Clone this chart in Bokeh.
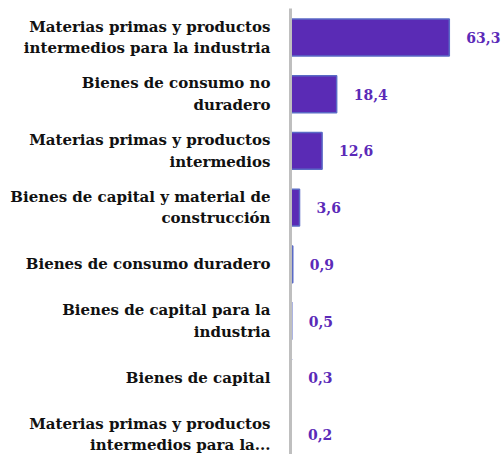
from bokeh.plotting import figure
from bokeh.models import Range1d, FixedTicker, ColumnDataSource
from bokeh.core.properties import value
from bokeh.embed import file_html
from bokeh.resources import INLINE

categories = [
    "Materias primas y productos\nintermedios para la industria",
    "Bienes de consumo no\nduradero",
    "Materias primas y productos\nintermedios",
    "Bienes de capital y material de\nconstrucción",
    "Bienes de consumo duradero",
    "Bienes de capital para la\nindustria",
    "Bienes de capital",
    "Materias primas y productos\nintermedios para la...",
]
values = [63.3, 18.4, 12.6, 3.6, 0.9, 0.5, 0.3, 0.2]

pos = list(range(len(categories)))
labels = [f"{v:.1f}".replace(".", ",") for v in values]
src = ColumnDataSource(dict(y=pos, v=values, lab=labels))

p = figure(width=504, height=454, output_backend="svg", toolbar_location=None,
           x_range=Range1d(0, 85.3), y_range=Range1d(7.353, -0.511),
           min_border_left=290, min_border_right=0, min_border_top=8, min_border_bottom=0)
p.outline_line_color = None
p.xgrid.visible = False
p.ygrid.visible = False
p.xaxis.visible = False

p.hbar(y="y", right="v", left=0, height=0.65, source=src,
       fill_color="#5a2bb5", line_color="#5a6ac6", line_width=1.5)
p.text(x="v", y="y", text="lab", source=src, x_offset=17, text_align="left",
       text_baseline="middle", text_font=value("DejaVu Serif"), text_font_style="bold",
       text_font_size="14px", text_color="#5b2ab8")

ya = p.yaxis[0]
ya.ticker = FixedTicker(ticks=pos)
ya.major_label_overrides = {i: c for i, c in enumerate(categories)}
ya.major_tick_line_color = None
ya.minor_tick_line_color = None
ya.axis_line_color = "#bfbfbf"
ya.axis_line_width = 3
ya.major_label_standoff = 14
ya.major_label_text_font = "DejaVu Serif"
ya.major_label_text_font_style = "bold"
ya.major_label_text_font_size = "15px"
ya.major_label_text_color = "#111111"
ya.major_label_text_align = "right"

open("out.html", "w").write(file_html(p, INLINE))
